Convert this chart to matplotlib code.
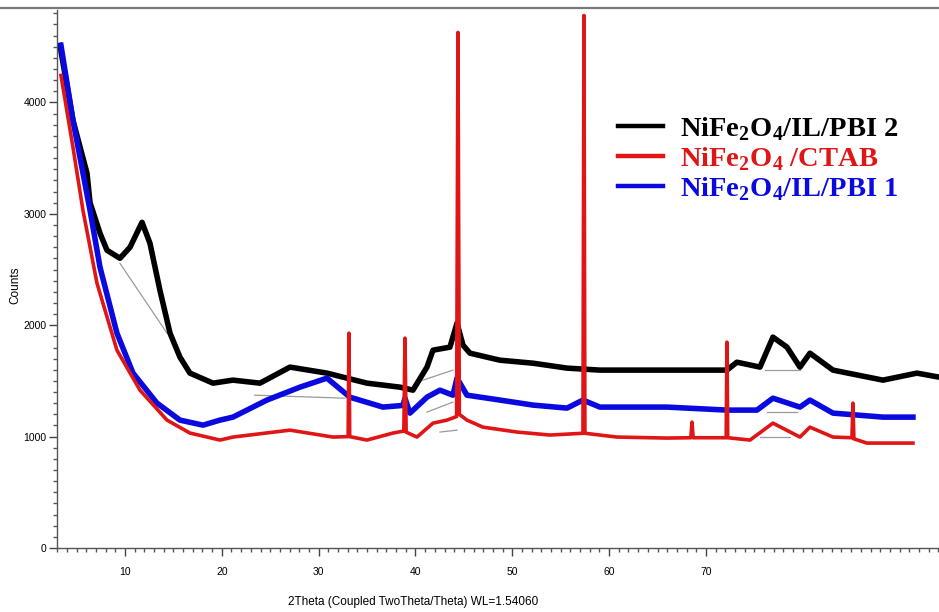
import matplotlib
matplotlib.use("Agg")
import matplotlib.pyplot as plt
from matplotlib.lines import Line2D
from matplotlib.ticker import MultipleLocator

plt.rcParams["mathtext.fontset"] = "custom"
plt.rcParams["mathtext.rm"] = "Liberation Serif:bold"
plt.rcParams["mathtext.bf"] = "Liberation Serif:bold"

# 2-theta (deg) and intensity (counts) for each sample
pbi2_x = [3.29, 4.63, 6.08, 6.39, 7.42, 8.14, 9.48, 10.52, 11.76, 12.58, 13.61, 14.65,
          15.68, 16.71, 19.09, 21.15, 23.94, 27.04, 30.86, 34.99, 38.40, 39.74, 41.19,
          41.81, 43.56, 44.29, 44.91, 45.63, 48.73, 52.14, 55.65, 59.05, 65.97, 72.17,
          73.20, 75.58, 76.92, 78.37, 79.71, 80.74, 83.12, 88.28, 91.79, 94.07]
pbi2_y = [4512, 3839, 3364, 3100, 2826, 2673, 2601, 2700, 2924, 2736, 2314, 1929,
          1713, 1570, 1480, 1507, 1480, 1624, 1570, 1480, 1444, 1417, 1624,
          1776, 1803, 2018, 1821, 1749, 1686, 1659, 1615, 1597, 1597, 1597,
          1668, 1624, 1893, 1803, 1624, 1749, 1597, 1507, 1570, 1534]

ctab_x = [3.39, 4.63, 5.66, 7.11, 9.17, 11.55, 14.34, 16.71, 19.81, 21.15, 27.04, 31.48,
          33.05, 33.13, 33.21, 34.99, 37.68, 38.80, 38.92, 39.04, 40.16, 41.81, 43.25,
          44.25, 44.39, 44.53, 45.32, 46.97, 50.48, 53.89, 57.30, 57.40, 57.50, 59.05,
          60.81, 65.97, 68.44, 68.56, 68.68, 72.09, 72.17, 72.25, 74.55, 76.92, 79.71,
          80.74, 83.12, 85.08, 85.18, 85.28, 86.63, 91.38]
ctab_y = [4243, 3597, 3032, 2377, 1776, 1417, 1148, 1032, 969, 996, 1058, 996,
          1000, 1929, 1000, 969, 1032, 1050, 1884, 1040, 996, 1121, 1148,
          1180, 4629, 1200, 1148, 1085, 1041, 1014, 1030, 4781, 1030, 1014,
          996, 987, 990, 1130, 990, 990, 1848, 990, 969, 1121, 996,
          1085, 996, 990, 1301, 980, 942, 942]

pbi1_x = [3.39, 4.63, 6.39, 7.42, 9.17, 10.83, 13.30, 15.68, 18.06, 19.81, 21.15, 24.66,
          28.07, 30.86, 33.23, 36.64, 38.70, 38.92, 39.43, 41.19, 42.53, 43.87, 44.29,
          45.32, 48.73, 52.14, 55.65, 57.30, 59.05, 65.97, 72.17, 75.27, 76.92, 79.71,
          80.74, 83.12, 88.28, 91.38]
pbi1_y = [4512, 3839, 3032, 2521, 1929, 1570, 1301, 1148, 1103, 1148, 1175, 1328,
          1444, 1525, 1354, 1265, 1280, 1345, 1211, 1354, 1417, 1372, 1525,
          1372, 1328, 1283, 1256, 1328, 1265, 1265, 1238, 1238, 1345, 1265,
          1328, 1211, 1175, 1175]

# fitted background segments
bg_x = [[9.48, 14.34], [23.40, 32.70], [40.78, 43.87], [41.19, 43.87], [42.53, 44.29],
        [76.10, 79.70], [76.30, 79.40], [75.60, 78.70]]
bg_y = [[2556, 1929], [1372, 1345], [1507, 1597], [1220, 1310], [1041, 1058],
        [1597, 1597], [1220, 1220], [996, 996]]

labels = [r"NiFe$_2$O$_4$/IL/PBI 2", r"NiFe$_2$O$_4$ /CTAB", r"NiFe$_2$O$_4$/IL/PBI 1"]
colors = ["#000000", "#e01515", "#0a0ae0"]

fig = plt.figure(figsize=(9.39, 6.12), dpi=100)
ax = fig.add_axes([57 / 939, 1 - 548 / 612, 882 / 939, 538 / 612])

for xs, ys in zip(bg_x, bg_y):
    ax.plot(xs, ys, color="#9a9a9a", lw=0.9, zorder=1)
ax.plot(pbi2_x, pbi2_y, color=colors[0], lw=4.0, zorder=2, solid_joinstyle="round")
ax.plot(pbi1_x, pbi1_y, color=colors[2], lw=4.0, zorder=3, solid_joinstyle="round")
ax.plot(ctab_x, ctab_y, color=colors[1], lw=2.6, zorder=4, solid_joinstyle="round")

ax.set_xlim(2.98, 94.07)
ax.set_ylim(0, 4830)

for s in ["top", "right"]:
    ax.spines[s].set_visible(False)
for s in ["left", "bottom"]:
    ax.spines[s].set_color("#555555")
    ax.spines[s].set_linewidth(1.0)

ax.xaxis.set_major_locator(MultipleLocator(10))
ax.xaxis.set_minor_locator(MultipleLocator(1))
ax.yaxis.set_major_locator(MultipleLocator(1000))
ax.yaxis.set_minor_locator(MultipleLocator(100))
tick_font = ["Liberation Sans Narrow", "Liberation Sans"]
ax.tick_params(which="major", length=6, width=1, color="#444444", labelsize=7.5)
ax.tick_params(which="minor", length=3, width=1, color="#555555")
ax.tick_params(axis="x", which="major", pad=8)
ax.tick_params(axis="y", which="major", pad=1.5)
ax.set_xticks([10, 20, 30, 40, 50, 60, 70])
for lab in ax.get_xticklabels() + ax.get_yticklabels():
    lab.set_family(tick_font)

ax.set_xlabel("2Theta (Coupled TwoTheta/Theta) WL=1.54060", fontsize=8.5, family=tick_font)
ax.xaxis.set_label_coords(0.4036, -0.090)
ax.set_ylabel("Counts", fontsize=8.5, family=tick_font)
ax.yaxis.set_label_coords(-0.040, 0.489)

handles = [Line2D([], [], color=c, lw=3.2) for c in colors]
leg = ax.legend(handles, labels, loc="upper left", bbox_to_anchor=(0.636, 0.805),
                frameon=False, borderpad=0, borderaxespad=0, handlelength=1.58,
                handletextpad=0.6, labelspacing=0.08,
                prop={"family": "Liberation Serif", "weight": "bold", "size": 20.5})
for txt, c in zip(leg.get_texts(), colors):
    txt.set_color(c)

fig.add_artist(Line2D([0, 1], [1 - 8 / 612] * 2, transform=fig.transFigure,
                      color="#777777", lw=1.6))

fig.savefig("out.png", dpi=100)
